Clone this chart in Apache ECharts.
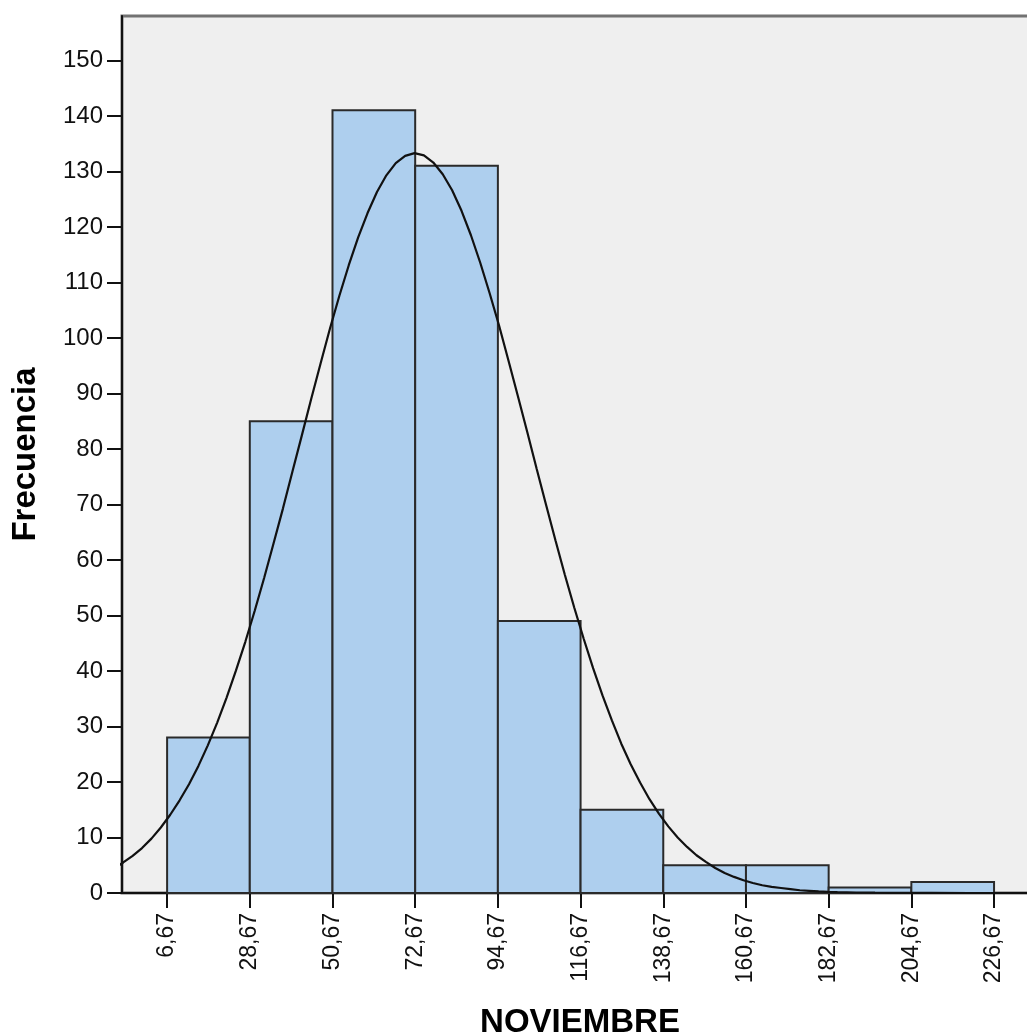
<!DOCTYPE html>
<html>
<head>
<meta charset="utf-8">
<script src="https://cdn.jsdelivr.net/npm/echarts@6/dist/echarts.min.js"></script>
<style>
  html, body { margin: 0; padding: 0; background: #ffffff; }
  #chart { width: 1027px; height: 1035px; }
</style>
</head>
<body>
<div id="chart"></div>
<script>
// Histogram bins of NOVIEMBRE (bin edges) and their frequencies
const binEdges = [6.67, 28.67, 50.67, 72.67, 94.67, 116.67, 138.67, 160.67, 182.67, 204.67, 226.67];
const frequencies = [28, 85, 141, 131, 49, 15, 5, 5, 1, 2];

// Fitted normal curve, sampled along the x axis
const curveX = [-10, -7.5, -5, -2.5, 0, 2.5, 5, 7.5, 10, 12.5, 15, 17.5, 20, 22.5, 25, 27.5, 30, 32.5, 35, 37.5,
  40, 42.5, 45, 47.5, 50, 52.5, 55, 57.5, 60, 62.5, 65, 67.5, 70, 72.5, 75, 77.5, 80, 82.5, 85, 87.5, 90, 92.5,
  95, 97.5, 100, 102.5, 105, 107.5, 110, 112.5, 115, 117.5, 120, 122.5, 125, 127.5, 130, 132.5, 135, 137.5,
  140, 142.5, 145, 147.5, 150, 152.5, 155, 157.5, 160, 162.5, 165, 167.5, 170, 172.5, 175, 177.5, 180, 182.5,
  185, 190, 195, 200, 210, 220, 240];
const curveY = [3.6, 4.4, 5.5, 6.7, 8.1, 9.8, 11.8, 14.1, 16.7, 19.6, 22.9, 26.6, 30.7, 35.2, 40.1, 45.3, 50.9,
  56.8, 63.0, 69.3, 75.9, 82.4, 89.0, 95.4, 101.7, 107.6, 113.1, 118.1, 122.5, 126.3, 129.3, 131.5, 132.8, 133.3,
  132.9, 131.6, 129.5, 126.6, 122.9, 118.5, 113.5, 108.0, 102.2, 95.9, 89.5, 83.0, 76.4, 69.9, 63.5, 57.3, 51.4,
  45.8, 40.5, 35.6, 31.1, 26.9, 23.2, 19.9, 16.9, 14.3, 12.0, 10.0, 8.3, 6.8, 5.6, 4.5, 3.6, 2.9, 2.3, 1.8, 1.4,
  1.1, 0.9, 0.7, 0.5, 0.4, 0.3, 0.22, 0.16, 0.09, 0.05, 0.02, 0.01, 0.0, 0.0];

// Frequency axis ticks
const yTicks = [0, 10, 20, 30, 40, 50, 60, 70, 80, 90, 100, 110, 120, 130, 140, 150];

const binData = frequencies.map((f, i) => [binEdges[i], binEdges[i + 1], f]);
const curveData = curveX.map((x, i) => [x, curveY[i]]);

const FONT = "'Liberation Sans', Arial, sans-serif";

const chart = echarts.init(document.getElementById('chart'), null, { renderer: 'canvas' });

chart.setOption({
  animation: false,
  backgroundColor: '#ffffff',
  grid: {
    left: 122, top: 16, width: 909, height: 877,
    outerBoundsMode: 'none',
    containLabel: false,
    show: true,
    backgroundColor: '#efefef',
    borderColor: '#727272',
    borderWidth: 3
  },
  xAxis: {
    type: 'value',
    min: -5.33,
    max: 236.5,
    name: 'NOVIEMBRE',
    nameLocation: 'middle',
    nameGap: 113,
    nameTextStyle: { fontFamily: FONT, fontSize: 33, fontWeight: 'bold', color: '#000000', padding: [0, 0, 0, 7] },
    splitLine: { show: false },
    axisLine: { show: true, onZero: false, lineStyle: { color: '#111111', width: 2 } },
    axisTick: { show: true, length: 15, lineStyle: { color: '#111111', width: 2 }, customValues: binEdges },
    axisLabel: {
      customValues: binEdges,
      rotate: 90,
      margin: 20,
      padding: [6, 0, 0, 0],
      fontFamily: FONT,
      fontSize: 23,
      color: '#111111',
      formatter: v => v.toFixed(2).replace('.', ',')
    }
  },
  yAxis: {
    type: 'value',
    min: 0,
    max: 158,
    name: 'Frecuencia',
    nameLocation: 'middle',
    nameGap: 80,
    nameTextStyle: { fontFamily: FONT, fontSize: 33, fontWeight: 'bold', color: '#000000' },
    splitLine: { show: false },
    axisLine: { show: true, onZero: false, lineStyle: { color: '#111111', width: 2 } },
    axisTick: { show: true, length: 15, lineStyle: { color: '#111111', width: 2 }, customValues: yTicks },
    axisLabel: {
      customValues: yTicks,
      margin: 19,
      fontFamily: FONT,
      fontSize: 24,
      color: '#111111'
    }
  },
  series: [
    {
      type: 'custom',
      z: 2,
      data: binData,
      renderItem: function (params, api) {
        const p0 = api.coord([api.value(0), api.value(2)]);
        const p1 = api.coord([api.value(1), 0]);
        return {
          type: 'rect',
          shape: { x: p0[0], y: p0[1], width: p1[0] - p0[0], height: p1[1] - p0[1] },
          style: { fill: '#aecfee', stroke: '#2a2a2a', lineWidth: 2 }
        };
      }
    },
    {
      type: 'line',
      z: 3,
      data: curveData,
      smooth: false,
      symbol: 'none',
      lineStyle: { color: '#111111', width: 2.2 }
    }
  ]
});
</script>
</body>
</html>
